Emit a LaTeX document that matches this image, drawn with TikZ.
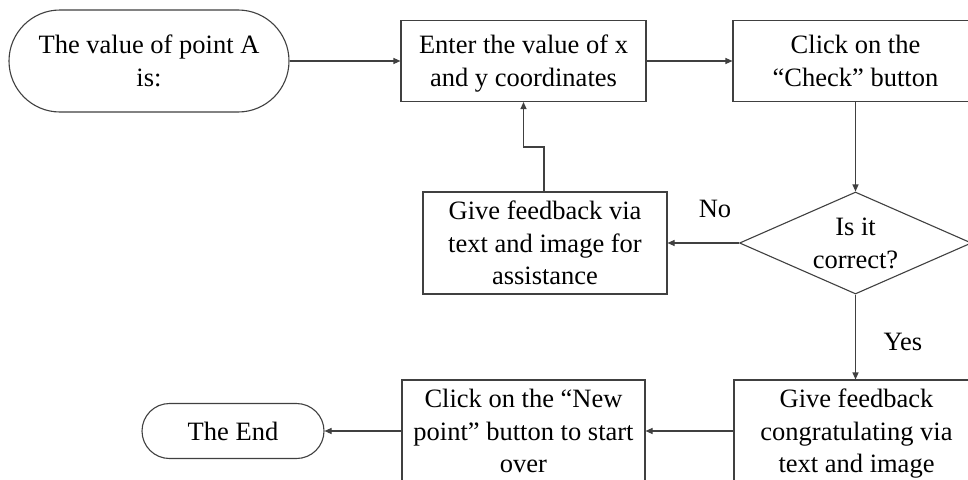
\documentclass[tikz,border=0pt]{standalone}
\usepackage{fontspec}
\setmainfont{Liberation Serif}
\usetikzlibrary{arrows.meta,shapes.geometric}
\definecolor{linec}{HTML}{404040}
\newcommand\topst{\rule{0pt}{26pt}}
\newcommand\botst{\rule[-8pt]{0pt}{8pt}}
\tikzset{
  base/.style={draw=linec, line width=1.1pt, inner sep=0pt, align=center, text=black,
    font=\fontsize{26.5}{32.5}\selectfont},
  procbox/.style={base, rectangle, minimum width=245pt, minimum height=81pt},
  tallbox/.style={base, rectangle, minimum width=245pt, minimum height=102pt},
  term/.style={base, rectangle, rounded corners=#1},
  decide/.style={base, diamond, minimum width=232pt, minimum height=102pt},
  conn/.style={draw=linec, line width=1.1pt, -{Triangle[length=7pt,width=6pt]}},
  lbl/.style={font=\fontsize{26.5}{32.5}\selectfont, inner sep=0pt}
}
\begin{document}
\begin{tikzpicture}[x=1pt,y=-1pt]
\clip (0,0) rectangle (968,479);
\fill[white] (0,0) rectangle (968,479);

\node[term=51pt, minimum width=280pt, minimum height=102pt] (start) at (149,61) {\topst The value of point A\\is:\botst};
\node[procbox] (enter) at (523.5,61) {\topst Enter the value of x\\and y coordinates\botst};
\node[procbox] (check) at (855.5,61) {\topst Click on the\\“Check” button\botst};
\node[decide, label={[lbl,align=center]center:\topst Is it\\correct?\botst}] (dec) at (855.5,243) {};
\node[tallbox, minimum width=244pt] (help) at (545,243) {\topst Give feedback via\\text and image for\\assistance\botst};
\node[tallbox] (congr) at (856.5,431) {\topst Give feedback\\congratulating via\\text and image\botst};
\node[tallbox, minimum width=243pt] (newp) at (523.5,431) {\topst Click on the “New\\point” button to start\\over\botst};
\node[term=27.5pt, minimum width=182pt, minimum height=55pt] (theend) at (233,431) {The End};

\node[lbl] (no) at (715,209) {No};
\node[lbl] (yes) at (903,342) {Yes};

\coordinate (bend) at (544,147);
\draw[conn] (start.east) -- (enter.west);
\draw[conn] (enter.east) -- (check.west);
\draw[conn] (check.south) -- (dec.north);
\draw[conn] (dec.west) -- (help.east);
\draw[conn] (help.north -| bend) -- (bend) -| (enter.south);
\draw[conn] (dec.south) -- (congr.north -| dec.south);
\draw[conn] (congr.west) -- (newp.east);
\draw[conn] (newp.west) -- (theend.east);
\end{tikzpicture}
\end{document}
